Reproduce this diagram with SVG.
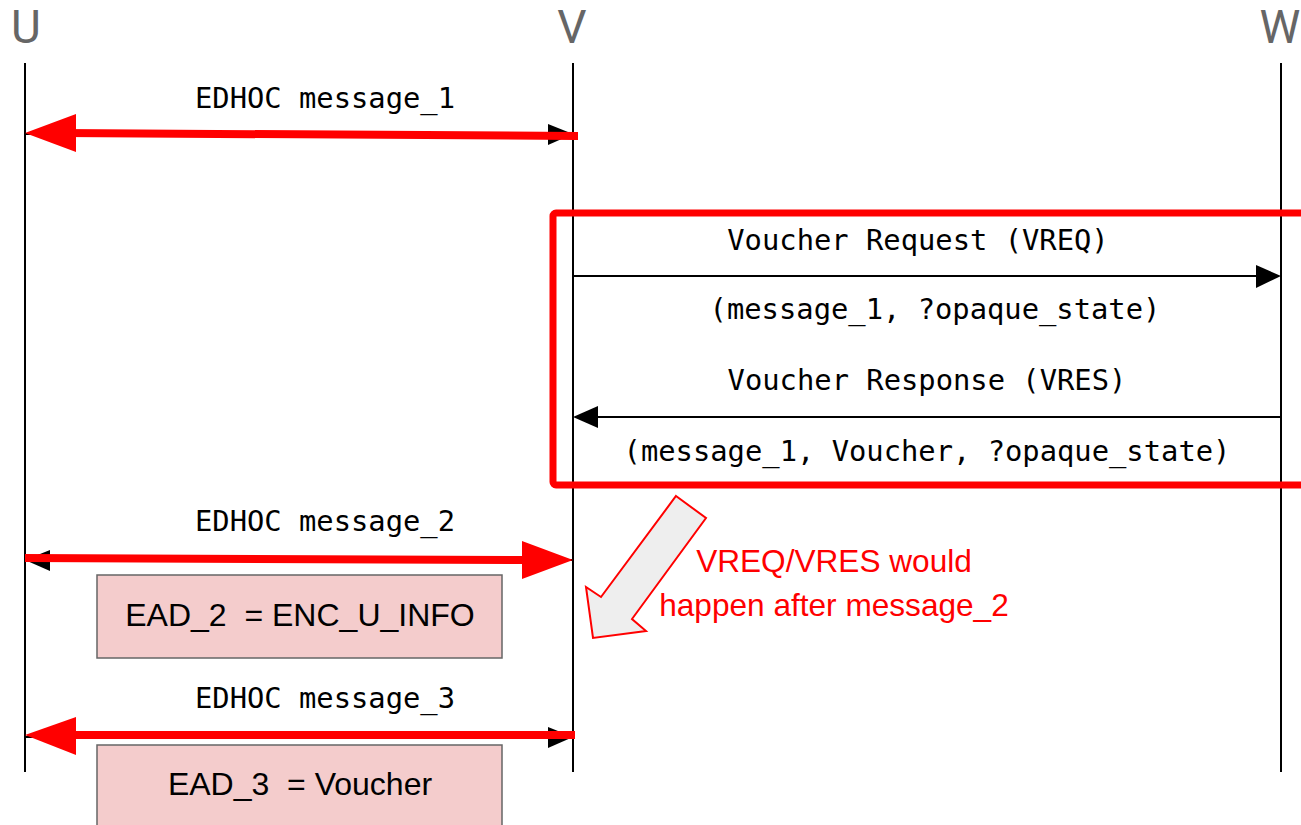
<svg xmlns="http://www.w3.org/2000/svg" width="1301" height="825" viewBox="0 0 1301 825">
<style>
.actor{font-family:Roboto,"Liberation Sans",sans-serif;font-size:46px;fill:#666666;text-anchor:middle}
.life{stroke:#000;stroke-width:2;fill:none}
.mono{font-family:"DejaVu Sans Mono","Liberation Mono",monospace;font-size:28.8px;fill:#000;text-anchor:middle}
.msg{stroke:#000;stroke-width:2;fill:none}
.red{stroke:#ff0000;stroke-width:8;fill:none}
.redhead{fill:#ff0000}
.head{fill:#000}
.ead{fill:#f4cccc;stroke:#666666;stroke-width:1.5}
.eadt{font-family:"Liberation Sans",Arial,sans-serif;font-size:32px;fill:#000;text-anchor:middle}
.note{font-family:"Liberation Sans",Arial,sans-serif;font-size:31.6px;fill:#ff0000;text-anchor:middle}
</style>
<g id="actor-U"><text class="actor" x="26" y="43">U</text><line class="life" x1="25" y1="63" x2="25" y2="772"/></g>
<g id="actor-V"><text class="actor" x="572" y="43">V</text><line class="life" x1="573" y1="63" x2="573" y2="772"/></g>
<g id="actor-W"><text class="actor" x="1280" y="43">W</text><line class="life" x1="1281" y1="63" x2="1281" y2="772"/></g>
<g id="vbox"><rect x="553" y="213" width="800" height="272" rx="3" fill="none" stroke="#ff0000" stroke-width="7"/></g>
<g id="connectors">
<line class="msg" x1="25" y1="134" x2="552" y2="134"/>
<polygon class="head" points="573,134 548,124 548,145"/>
<line class="red" x1="62" y1="133" x2="578" y2="136"/>
<polygon class="redhead" points="25,133 76,114 76,152"/>
<line class="msg" x1="573" y1="276" x2="1260" y2="276"/>
<polygon class="head" points="1281,276 1256,265 1256,288"/>
<line class="msg" x1="594" y1="417" x2="1281" y2="417"/>
<polygon class="head" points="573,417 598,406 598,428"/>
<line class="msg" x1="44" y1="560" x2="573" y2="560"/>
<polygon class="head" points="25,560 50,550 50,571"/>
<line class="red" x1="25" y1="558" x2="530" y2="560"/>
<polygon class="redhead" points="573,560 522,541 522,579"/>
<line class="msg" x1="25" y1="737" x2="552" y2="737"/>
<polygon class="head" points="573,737 548,727 548,748"/>
<line class="red" x1="62" y1="735" x2="575" y2="735"/>
<polygon class="redhead" points="25,735 76,717 76,755"/>
</g>
<g id="labels">
<text class="mono" x="325" y="108">EDHOC message_1</text>
<text class="mono" x="918" y="250">Voucher Request (VREQ)</text>
<text class="mono" x="935" y="319">(message_1, ?opaque_state)</text>
<text class="mono" x="927" y="390">Voucher Response (VRES)</text>
<text class="mono" x="927" y="461">(message_1, Voucher, ?opaque_state)</text>
<text class="mono" x="325" y="531">EDHOC message_2</text>
<text class="mono" x="325" y="708">EDHOC message_3</text>
</g>
<g id="ead2"><rect class="ead" x="97" y="575" width="405" height="83"/><text class="eadt" x="300" y="626" xml:space="preserve">EAD_2  = ENC_U_INFO</text></g>
<g id="ead3"><rect class="ead" x="97" y="745" width="405" height="90"/><text class="eadt" x="300" y="795" xml:space="preserve">EAD_3  = Voucher</text></g>
<g id="note">
<polygon points="676,496 706,518 632,619 646,631 593,638 586,587 601,597" fill="#eeeeee" stroke="#ff0000" stroke-width="2"/>
<text class="note" x="834" y="572">VREQ/VRES would</text>
<text class="note" x="834" y="616">happen after message_2</text>
</g>
</svg>
